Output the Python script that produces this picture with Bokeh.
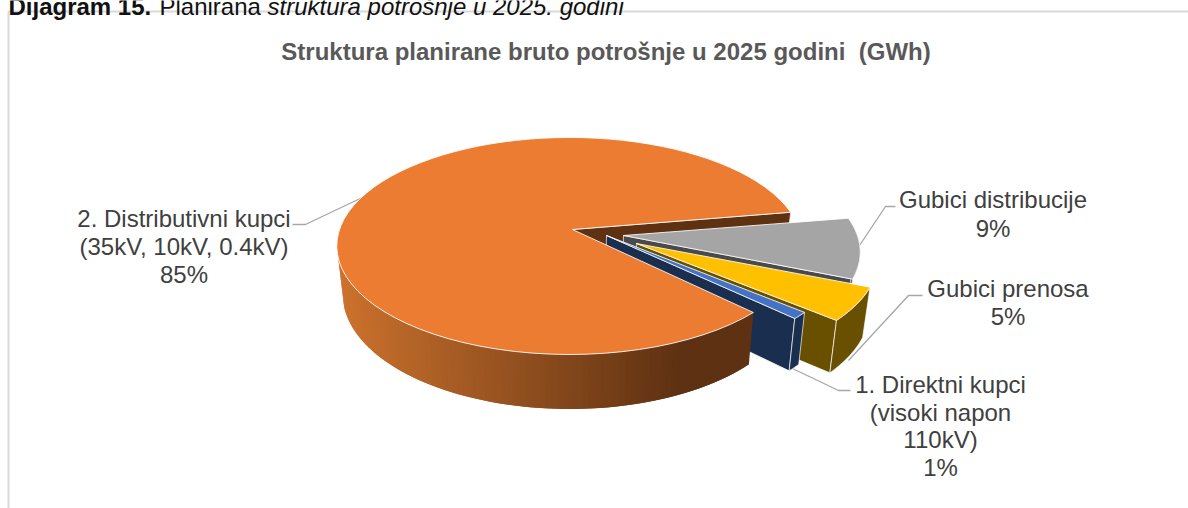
import math
from bokeh.plotting import figure
from bokeh.models import ColumnDataSource
from bokeh.core.properties import value
from bokeh.embed import file_html
from bokeh.resources import INLINE

# Shares of planned gross consumption, %
categories = ["Gubici distribucije", "Gubici prenosa", "1. Direktni kupci", "2. Distributivni kupci"]
shares = [9, 5, 1, 85]
top_colors = ["#A5A5A5", "#FFC000", "#4472C4", "#EB7C31"]
wall_colors = ["#4A4A4A", "#685000", "#1A2E50", "#5E3112"]

title = "Struktura planirane bruto potrošnje u 2025 godini \u00a0(GWh)"
label_lines = [
    (183.5, 218, "2. Distributivni kupci"), (183.5, 246, "(35kV, 10kV, 0.4kV)"), (183.5, 274, "85%"),
    (992.5, 199, "Gubici distribucije"), (992.5, 228, "9%"),
    (1007.5, 288, "Gubici prenosa"), (1007.5, 316, "5%"),
    (940, 384, "1. Direktni kupci"), (940, 412, "(visoki napon"), (940, 439, "110kV)"), (940, 467, "1%"),
]
leaders = [
    ([292, 305, 368], [224, 224, 194]),
    ([855, 885, 895], [251, 206, 206]),
    ([848, 908, 922], [360, 295, 295]),
    ([792, 838, 850], [368, 390, 390]),
]

# Perspective projection of the tilted disc
APEX_X, APEX_Y = 572, 229
RIM_X = 569
RX, RY = 230, 106
TILT = 0.152
SHRINK = 0.975
START = -9.6
RIM_END = 165
# Per-slice pull-out (px) and horizontal reach
pull = [(51, 6), (64, 14), (34, 6), (0, 0)]
reach = [1.03, 1.05, 1.04, 1.0]


def rim_point(t_deg, i):
    t = math.radians(t_deg)
    u, v = math.cos(t), math.sin(t)
    w = 1 - TILT * v
    return RIM_X + pull[i][0] + RX * reach[i] * u / w, APEX_Y + pull[i][1] + RY * v / w


def apex_point(i):
    return APEX_X + pull[i][0], APEX_Y + pull[i][1]


def drop(pt):
    # Extrusion depth grows toward the viewer
    return APEX_X + (pt[0] - APEX_X) * SHRINK, pt[1] + 47 + 0.06 * (pt[1] - APEX_Y)


def xy(pts):
    return [q[0] for q in pts], [q[1] for q in pts]


def lerp_hex(a, b, f):
    ca = [int(a[i:i + 2], 16) for i in (1, 3, 5)]
    cb = [int(b[i:i + 2], 16) for i in (1, 3, 5)]
    return "#%02X%02X%02X" % tuple(round(x + (y - x) * f) for x, y in zip(ca, cb))


p = figure(width=1188, height=508, x_range=(0, 1188), y_range=(508, 0),
           output_backend="svg", toolbar_location=None, min_border=0)
p.axis.visible = False
p.grid.visible = False
p.outline_line_color = None
p.background_fill_color = "white"
p.border_fill_color = "white"

# Chart frame and caption above it
p.line([8, 8, 1188], [508, 11, 11], line_color="#D9D9D9", line_width=2)
caption_parts = [(8, "Dijagram 15.", "bold"), (159, "Planirana", "normal"),
                 (267, "struktura potrošnje u 2025. godini", "italic")]
for cx_, txt, style in caption_parts:
    p.text([cx_], [6], text=[txt], text_font=value("Liberation Sans"), text_font_size="24px",
           text_font_style=style, text_color="#111111", text_baseline="alphabetic", text_align="left")

p.text([605.5], [51], text=[title], text_font=value("Liberation Sans"), text_font_size="24px",
       text_font_style="bold", text_color="#595959", text_align="center", text_baseline="middle")

# Leader lines sit behind the pie
for lx, ly in leaders:
    p.line(lx, ly, line_color="#A6A6A6", line_width=1.3)

# Slice extents
spans = []
a = START
for s in shares:
    spans.append((a, a + s * 3.6))
    a += s * 3.6


def arc(i, t0, t1, n=80):
    return [rim_point(t0 + (t1 - t0) * j / n, i) for j in range(n + 1)]


def draw_wall(i, edge_deg):
    apex = apex_point(i)
    rim_pt = rim_point(edge_deg, i)
    xs, ys = xy([apex, rim_pt, drop(rim_pt), drop(apex)])
    p.patch(xs, ys, fill_color=wall_colors[i], line_color="white", line_width=0.8, line_alpha=0.85)


def draw_top(i):
    xs, ys = xy([apex_point(i)] + arc(i, *spans[i]))
    p.patch(xs, ys, fill_color=top_colors[i], line_color="white", line_width=1, line_alpha=0.85)


def draw_rim(i, t0, t1):
    if t1 <= t0:
        return
    upper = arc(i, t0, t1, 30)
    xs, ys = xy(upper + [drop(q) for q in reversed(upper)])
    p.patch(xs, ys, fill_color=wall_colors[i], line_color="white", line_width=0.8, line_alpha=0.85)


# Back wall of the large slice, visible through the gap
draw_wall(3, spans[3][1])

# Pulled-out slices, back to front
for i in range(3):
    draw_wall(i, spans[i][1])
    draw_rim(i, max(spans[i][0], 0), spans[i][1])
    draw_top(i)

# Shaded rim of the large slice as overlapping bands, painted from its right end leftward
i = 3
t0, t1 = spans[3][0], RIM_END
rim_x, rim_y, rim_c = [], [], []
N = 90
for j in range(N):
    a0 = t0 + (t1 - t0) * j / N
    a1 = t0 + (t1 - t0) * min(j + 2, N) / N
    q0, q1 = rim_point(a0, i), rim_point(a1, i)
    d0, d1 = drop(q0), drop(q1)
    rim_x.append([q0[0], q1[0], d1[0], d0[0]])
    rim_y.append([q0[1], q1[1], d1[1], d0[1]])
    mid = rim_point(t0 + (t1 - t0) * (j + 0.5) / N, i)
    f = min(max((mid[0] - 340) / 345, 0), 1)
    rim_c.append(lerp_hex("#CC722D", "#5E3112", f))
rim_x.reverse()
rim_y.reverse()
rim_c.reverse()
rim = ColumnDataSource(dict(xs=rim_x, ys=rim_y, color=rim_c))
p.patches("xs", "ys", source=rim, fill_color="color", line_color=None)
draw_top(3)

# Category labels
p.text([q[0] for q in label_lines], [q[1] for q in label_lines], text=[q[2] for q in label_lines],
       text_font=value("Liberation Sans"), text_font_size="24px", text_color="#404040",
       text_align="center", text_baseline="middle")

open("out.html", "w").write(file_html(p, INLINE))
